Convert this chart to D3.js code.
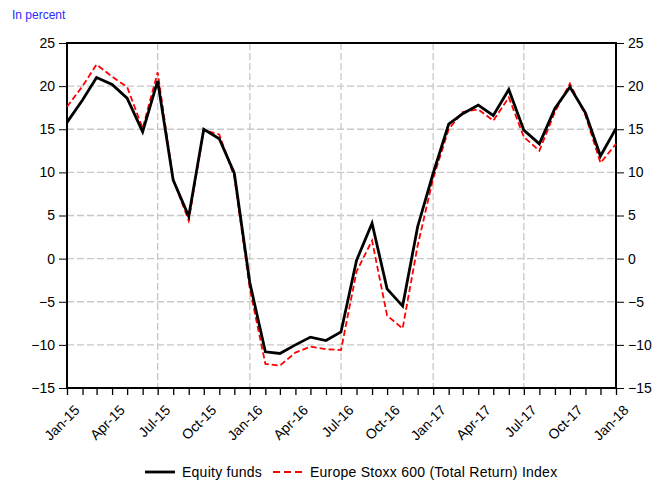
<!DOCTYPE html>
<html>
<head>
<meta charset="utf-8">
<script src="https://cdn.jsdelivr.net/npm/d3@7"></script>
<style>
  body { margin: 0; background: #fff; }
  svg { font-family: "Liberation Sans", Arial, sans-serif; }
  .grid line { stroke: #c8c8c8; stroke-width: 1.3; stroke-dasharray: 7,3; }
  .axis path, .axis line { stroke: #000; }
  .axis text { font-size: 14px; fill: #000; }
</style>
</head>
<body>
<svg id="chart"></svg>
<script>
// monthly observations, Jan-15 .. Jan-18
const months = ['2015-01','2015-02','2015-03','2015-04','2015-05','2015-06','2015-07','2015-08','2015-09','2015-10','2015-11','2015-12',
  '2016-01','2016-02','2016-03','2016-04','2016-05','2016-06','2016-07','2016-08','2016-09','2016-10','2016-11','2016-12',
  '2017-01','2017-02','2017-03','2017-04','2017-05','2017-06','2017-07','2017-08','2017-09','2017-10','2017-11','2017-12',
  '2018-01'];

const equityFunds = [15.8, 18.4, 21.0, 20.2, 18.6, 14.7, 20.6, 9.1, 4.9, 15.0, 13.9, 9.9,
  -2.8, -10.8, -11.0, -10.0, -9.1, -9.5, -8.5, -0.2, 4.1, -3.5, -5.5, 3.7,
  9.9, 15.6, 16.8, 17.8, 16.6, 19.6, 14.9, 13.3, 17.4, 19.9, 16.9, 11.9,
  15.1];

const stoxx600 = [17.6, 20.0, 22.5, 21.1, 19.9, 15.1, 21.6, 9.2, 4.4, 14.9, 14.4, 9.5,
  -3.5, -12.2, -12.4, -10.9, -10.2, -10.5, -10.6, -1.5, 2.1, -6.6, -8.1, 1.5,
  9.3, 15.0, 17.0, 17.3, 16.0, 18.7, 14.1, 12.5, 17.0, 20.3, 16.6, 11.1,
  13.3];

const yTicks = [-15, -10, -5, 0, 5, 10, 15, 20, 25];
const seriesNames = ['Equity funds', 'Europe Stoxx 600 (Total Return) Index'];

const config = {
  containerWidth: 664,
  containerHeight: 483,
  margin: { top: 43, right: 48, bottom: 95, left: 67 }
};

const parseMonth = d3.timeParse('%Y-%m');
const fmtMonth = d3.timeFormat('%b-%y');

const width = config.containerWidth - config.margin.left - config.margin.right;
const height = config.containerHeight - config.margin.top - config.margin.bottom;

const dates = months.map(parseMonth);
const data = dates.map((d, i) => ({ date: d, eq: equityFunds[i], sx: stoxx600[i] }));

const xScale = d3.scaleTime()
  .domain(d3.extent(dates))
  .range([0, width]);

const yScale = d3.scaleLinear()
  .domain([-15, 25])
  .range([height, 0]);

const svg = d3.select('#chart')
  .attr('width', config.containerWidth)
  .attr('height', config.containerHeight);

svg.append('text')
  .attr('x', 12)
  .attr('y', 19)
  .attr('font-size', '12px')
  .attr('fill', '#2b2bff')
  .text('In percent');

const chart = svg.append('g')
  .attr('transform', `translate(${config.margin.left},${config.margin.top})`);

// gridlines
const grid = chart.append('g').attr('class', 'grid');
grid.selectAll('.hgrid')
  .data(yTicks.slice(1, -1))
  .join('line')
  .attr('x1', 0).attr('x2', width)
  .attr('y1', d => yScale(d)).attr('y2', d => yScale(d));

const halfYears = dates.filter((d, i) => i % 6 === 0 && i > 0 && i < dates.length - 1);
grid.selectAll('.vgrid')
  .data(halfYears)
  .join('line')
  .attr('x1', d => xScale(d)).attr('x2', d => xScale(d))
  .attr('y1', 0).attr('y2', height);

// axes
const quarters = dates.filter((d, i) => i % 3 === 0);

const xAxis = d3.axisBottom(xScale)
  .tickValues(dates)
  .tickSize(7)
  .tickSizeOuter(0)
  .tickFormat(d => quarters.includes(d) ? fmtMonth(d) : '');

const xAxisG = chart.append('g')
  .attr('class', 'axis x-axis')
  .attr('transform', `translate(0,${height})`)
  .call(xAxis);
xAxisG.selectAll('line').attr('stroke-width', 1.3);
xAxisG.selectAll('text')
  .attr('text-anchor', 'end')
  .attr('dy', null)
  .attr('transform', 'translate(6,16) rotate(-45)');

const yAxisL = chart.append('g')
  .attr('class', 'axis y-axis')
  .call(d3.axisLeft(yScale).tickValues(yTicks).tickSize(8).tickSizeOuter(0).tickPadding(4));
yAxisL.selectAll('line').attr('stroke', '#555');

const yAxisR = chart.append('g')
  .attr('class', 'axis y-axis')
  .attr('transform', `translate(${width},0)`)
  .call(d3.axisRight(yScale).tickValues(yTicks).tickSize(8).tickSizeOuter(0).tickPadding(4));
yAxisR.selectAll('line').attr('stroke', '#555');

chart.selectAll('.axis path').remove();

// frame
chart.append('rect')
  .attr('width', width)
  .attr('height', height)
  .attr('fill', 'none')
  .attr('stroke', '#000')
  .attr('stroke-width', 2);

// lines
const lineEq = d3.line().x(d => xScale(d.date)).y(d => yScale(d.eq));
const lineSx = d3.line().x(d => xScale(d.date)).y(d => yScale(d.sx));

chart.append('path')
  .datum(data)
  .attr('fill', 'none')
  .attr('stroke', '#ff0000')
  .attr('stroke-width', 1.8)
  .attr('stroke-dasharray', '6,3')
  .attr('d', lineSx);

chart.append('path')
  .datum(data)
  .attr('fill', 'none')
  .attr('stroke', '#000')
  .attr('stroke-width', 2.8)
  .attr('stroke-linejoin', 'miter')
  .attr('d', lineEq);

// legend
const legend = svg.append('g').attr('font-size', '14px').attr('letter-spacing', '0.25px');
legend.append('line')
  .attr('x1', 145).attr('x2', 175).attr('y1', 472).attr('y2', 472)
  .attr('stroke', '#000').attr('stroke-width', 2.8);
legend.append('text').attr('x', 182).attr('y', 477).text(seriesNames[0]);
legend.append('line')
  .attr('x1', 273).attr('x2', 302).attr('y1', 472).attr('y2', 472)
  .attr('stroke', '#ff0000').attr('stroke-width', 1.8).attr('stroke-dasharray', '7,4');
legend.append('text').attr('x', 310).attr('y', 477).text(seriesNames[1]);
</script>
</body>
</html>
